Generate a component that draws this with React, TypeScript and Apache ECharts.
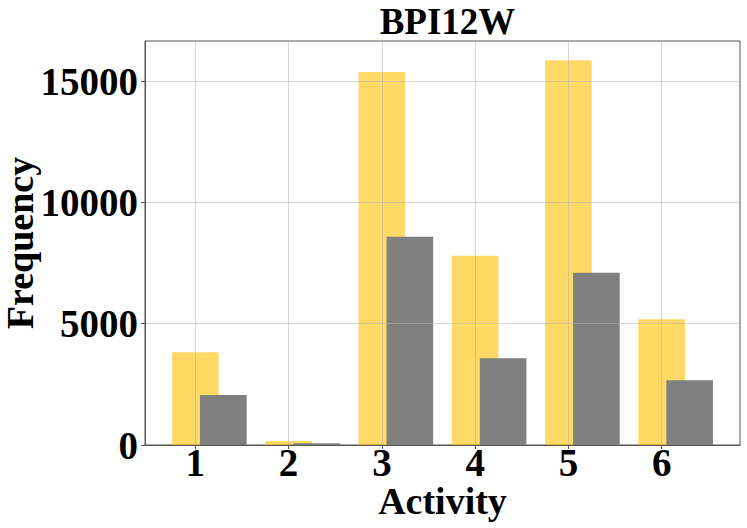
import React, { useEffect, useRef } from "react";
import * as echarts from "echarts";

const activities = [1, 2, 3, 4, 5, 6];
const yellowValues = [3820, 165, 15380, 7800, 15865, 5190];
const grayValues = [2060, 70, 8585, 3572, 7100, 2666];
const yTicks = [0, 5000, 10000, 15000];
const titleText = "BPI12W";
const xName = "Activity";
const yName = "Frequency";

const BAR_W = 0.5;
const GRAY_OFFSET = 0.3;
const FONT = "'Liberation Serif', 'Times New Roman', serif";

function makeRender(color: string, offset: number) {
  return (params: any, api: any) => {
    const x = api.value(0) + offset;
    const y = api.value(1);
    const p1 = api.coord([x - BAR_W / 2, y]);
    const p2 = api.coord([x + BAR_W / 2, 0]);
    return {
      type: "rect",
      shape: { x: p1[0], y: p1[1], width: p2[0] - p1[0], height: p2[1] - p1[1] },
      style: { fill: color },
    };
  };
}

export default function App() {
  const ref = useRef<HTMLDivElement>(null);
  useEffect(() => {
    if (!ref.current) return;
    const chart = echarts.init(ref.current, undefined, { renderer: "svg" });
    const dataMin = activities[0] - BAR_W / 2;
    const dataMax = activities[activities.length - 1] + GRAY_OFFSET + BAR_W / 2;
    const span = dataMax - dataMin;
    const yMax = Math.max(...yellowValues, ...grayValues) * 1.05;
    chart.setOption({
      animation: false,
      backgroundColor: "#ffffff",
      title: {
        text: titleText,
        left: 442.5,
        textAlign: "center",
        top: -2,
        textStyle: { fontFamily: FONT, fontWeight: "bold", fontSize: 37, color: "#000" },
      },
      grid: {
        left: 145,
        right: 7,
        top: 41,
        bottom: 83,
        containLabel: false,
        outerBoundsMode: "none",
        show: true,
        borderColor: "#555",
        borderWidth: 1,
        backgroundColor: "transparent",
      },
      xAxis: {
        type: "value",
        min: dataMin - span * 0.05,
        max: dataMax + span * 0.05,
        z: 5,
        name: xName,
        nameLocation: "middle",
        nameGap: 40,
        nameMoveOverlap: false,
        nameTextStyle: { fontFamily: FONT, fontWeight: "bold", fontSize: 38, lineHeight: 32, color: "#000" },
        axisLine: { show: true, onZero: false, lineStyle: { color: "#555", width: 1 } },
        axisTick: { show: true, length: 4, lineStyle: { color: "#555" }, customValues: activities },
        axisLabel: {
          customValues: activities,
          formatter: (v: number) => String(v),
          margin: 1,
          lineHeight: 32,
          fontFamily: FONT,
          fontWeight: "bold",
          fontSize: 39,
          color: "#000",
        },
        splitLine: { show: true, lineStyle: { color: "rgba(176,176,176,0.5)", width: 1 } },
      },
      yAxis: {
        type: "value",
        min: 0,
        max: yMax,
        z: 5,
        name: yName,
        nameLocation: "middle",
        nameGap: 106,
        nameMoveOverlap: false,
        nameTextStyle: { fontFamily: FONT, fontWeight: "bold", fontSize: 38, color: "#000" },
        axisLine: { show: true, lineStyle: { color: "#555", width: 1 } },
        axisTick: { show: true, length: 4, lineStyle: { color: "#555" }, customValues: yTicks },
        axisLabel: {
          customValues: yTicks,
          formatter: (v: number) => String(v),
          margin: 7,
          fontFamily: FONT,
          fontWeight: "bold",
          fontSize: 39,
          color: "#000",
        },
        splitLine: { show: true, lineStyle: { color: "rgba(176,176,176,0.5)", width: 1 } },
      },
      series: [
        {
          type: "custom",
          name: "yellow",
          z: 2,
          renderItem: makeRender("rgba(255,192,0,0.6)", 0),
          data: activities.map((a, i) => [a, yellowValues[i]]),
        },
        {
          type: "custom",
          name: "gray",
          z: 3,
          renderItem: makeRender("#808080", GRAY_OFFSET),
          data: activities.map((a, i) => [a, grayValues[i]]),
        },
      ],
    });
    return () => chart.dispose();
  }, []);
  return (
    <div
      ref={ref}
      style={{ position: "fixed", left: 0, top: 0, width: 747, height: 528, background: "#fff" }}
    />
  );
}
